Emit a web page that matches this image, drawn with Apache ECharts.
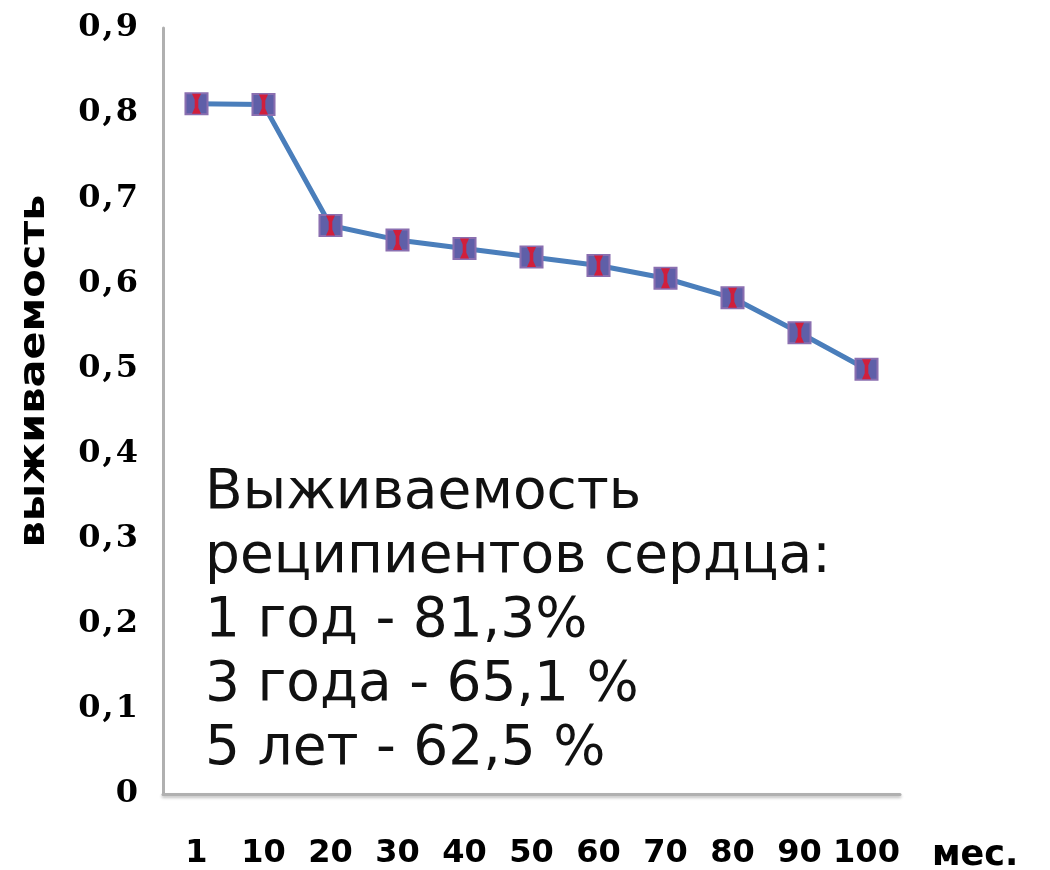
<!DOCTYPE html>
<html><head><meta charset="utf-8">
<script src="https://cdn.jsdelivr.net/npm/echarts@6/dist/echarts.min.js"></script>
<style>html,body{margin:0;padding:0;background:#fff}#c{width:1050px;height:870px}</style>
</head><body><div id="c"></div>
<script>
const categories = ['1','10','20','30','40','50','60','70','80','90','100'];
const survival = [0.811, 0.810, 0.668, 0.651, 0.641, 0.631, 0.621, 0.606, 0.583, 0.542, 0.499];
const yTicks = [0,0.1,0.2,0.3,0.4,0.5,0.6,0.7,0.8,0.9];
const yAxisTitle = 'выживаемость';
const xAxisUnit = 'мес.';
const noteLines = ['Выживаемость','реципиентов сердца:','1 год - 81,3%','3 года - 65,1 %','5 лет - 62,5 %'];

function fmtY(v){
  if (v === 0) return '{d|0}';
  return v.toFixed(1).replace('.', ',').split('').map(ch => ch === ',' ? '{c|,}' : '{d|' + ch + '}').join('');
}

const chart = echarts.init(document.getElementById('c'));
chart.setOption({
  animation:false,
  backgroundColor:'#fff',
  grid:{left:163,right:150,top:28,bottom:72},
  xAxis:{type:'category',data:categories,boundaryGap:true,
    axisLine:{lineStyle:{color:'#b0b0b0',width:3,shadowColor:'rgba(0,0,0,0.25)',shadowBlur:3,shadowOffsetY:2}},
    axisTick:{show:false},
    axisLabel:{interval:0,hideOverlap:false,margin:44,color:'#000',fontFamily:'DejaVu Sans',fontWeight:'bold',fontSize:32}},
  yAxis:{type:'value',min:yTicks[0],max:yTicks[yTicks.length-1],interval:0.1,
    axisLine:{show:true,lineStyle:{color:'#b0b0b0',width:3}},
    axisTick:{show:false},
    splitLine:{show:false},
    axisLabel:{margin:24,formatter:fmtY,
      rich:{
        d:{color:'#000',fontFamily:'DejaVu Serif',fontWeight:'bold',fontSize:32,padding:[0,1,0,1]},
        c:{color:'#000',fontFamily:'DejaVu Serif',fontWeight:'bold',fontSize:32,padding:[0,1,0,1]}
      }}},
  series:[
    {type:'line',data:survival,symbol:'rect',symbolSize:[22,21],
      lineStyle:{color:'#4a7ebb',width:5},
      itemStyle:{color:'#5f5fa8',borderColor:'#8a6fb0',borderWidth:2},z:2},
    {type:'line',data:survival,symbol:'path://M0,0 L10,0 L7,6 L7,14 L10,20 L0,20 L3,14 L3,6 Z',symbolSize:[9,20],
      lineStyle:{opacity:0},itemStyle:{color:'#d01f3c'},z:3}
  ],
  graphic:[
    {type:'text',x:35,y:371,rotation:Math.PI/2,scaleX:1.15,
      style:{text:yAxisTitle,fill:'#000',font:'bold 36px "DejaVu Sans"',align:'center',verticalAlign:'middle'}},
    {type:'text',left:205,top:462,style:{text:noteLines.join('\n'),fill:'#111',
      font:'55px "DejaVu Sans"',lineHeight:64}},
    {type:'text',left:932,top:838,style:{text:xAxisUnit,fill:'#000',
      font:'bold 35px "DejaVu Sans"'}}
  ]
});
</script></body></html>
